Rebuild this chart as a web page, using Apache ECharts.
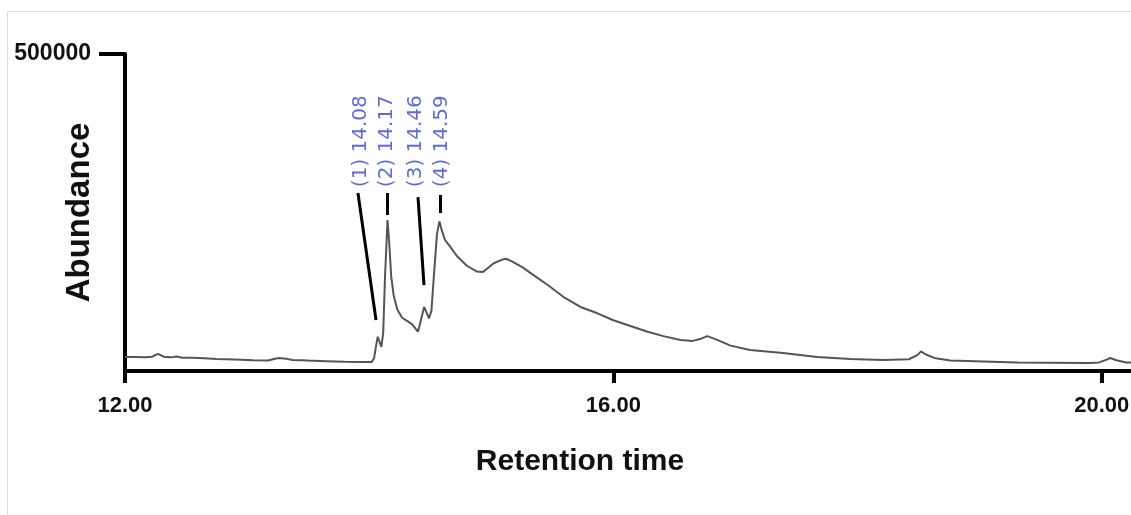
<!DOCTYPE html>
<html>
<head>
<meta charset="utf-8">
<script src="https://cdn.jsdelivr.net/npm/echarts@6/dist/echarts.min.js"></script>
<style>html,body{margin:0;padding:0;background:#fff;}#c{width:1131px;height:515px;}</style>
</head>
<body>
<div id="c"></div>
<script>
// Retention time (min)
var times = [12.00,12.08,12.16,12.22,12.27,12.32,12.38,12.42,12.47,12.55,12.65,12.75,12.90,13.05,13.17,13.22,13.26,13.32,13.37,13.50,13.65,13.80,13.95,14.02,14.04,14.055,14.07,14.085,14.10,14.115,14.13,14.15,14.165,14.18,14.20,14.23,14.27,14.31,14.35,14.40,14.43,14.45,14.47,14.49,14.51,14.53,14.555,14.575,14.59,14.62,14.66,14.72,14.80,14.88,14.93,14.97,15.02,15.08,15.12,15.17,15.26,15.34,15.46,15.59,15.73,15.87,16.00,16.14,16.28,16.41,16.55,16.65,16.72,16.77,16.85,16.96,17.12,17.39,17.67,17.94,18.21,18.42,18.49,18.52,18.56,18.64,18.76,19.03,19.31,19.58,19.90,19.98,20.04,20.07,20.12,20.20,20.24];
// Abundance
var abundance = [22000,22000,21500,22500,27000,22500,21500,23000,21000,21000,20000,19000,18000,17000,16500,19000,20500,19500,17500,16500,15500,14500,14000,14000,20000,38000,54000,46000,38000,60000,150000,238000,200000,150000,120000,97000,84000,79000,74000,62000,85000,101000,92000,83000,95000,150000,215000,236000,225000,207000,197000,181000,166000,157000,156000,162000,170000,175000,177000,173000,163000,152000,136000,117000,101000,91000,80000,71000,62000,55000,49000,47500,51000,55000,49000,40000,33000,28500,22000,19000,17500,18500,25000,31000,26000,20000,16500,15000,13500,13000,12500,13500,18000,20500,17000,13500,13500];

// Peak annotations
var peakLabels = ["(1) 14.08","(2) 14.17","(3) 14.46","(4) 14.59"];
var labelX = [13.933,14.146,14.383,14.596];
var labelY = [290000,290000,290000,290000];
// Leader lines: [x1,y1,x2,y2]
var leaderStartX = [13.908,14.146,14.400,14.580];
var leaderStartY = [280800,280800,274400,277600];
var leaderEndX = [14.056,14.146,14.449,14.580];
var leaderEndY = [80400,246000,135600,249200];

var xTicks = [12,16,20];
var yTicks = [500000];

var lineData = times.map(function(t,i){return [t, abundance[i]];});
var labelData = peakLabels.map(function(s,i){return {value:[labelX[i],labelY[i]], name:s};});
var leaderData = leaderStartX.map(function(x,i){
  return [{coord:[x,leaderStartY[i]]},{coord:[leaderEndX[i],leaderEndY[i]]}];
});

var chart = echarts.init(document.getElementById('c'), null, {renderer:'canvas'});
chart.setOption({
  backgroundColor:'#fff',
  animation:false,
  graphic:[{type:'rect', z:-1, silent:true, shape:{x:7.5,y:11.5,width:1200,height:600}, style:{fill:'none', stroke:'#dcdcdc', lineWidth:1}}],
  grid:{left:125, right:0, top:54, bottom:144, containLabel:false, outerBoundsMode:'none'},
  xAxis:{
    type:'value', min:12, max:20.24, interval:4,
    name:'Retention time', nameLocation:'middle', nameGap:76, nameMoveOverlap:false,
    nameTextStyle:{fontFamily:'Liberation Sans', fontWeight:'bold', fontSize:30, color:'#111', padding:[0,96,0,0]},
    axisLine:{show:true, onZero:false, lineStyle:{color:'#000', width:4, cap:'square'}},
    axisTick:{show:true, customValues:xTicks, length:12, lineStyle:{color:'#000', width:4}},
    axisLabel:{customValues:xTicks, margin:24, fontFamily:'Liberation Sans', fontWeight:'bold', fontSize:22, color:'#111', formatter:function(v){return v.toFixed(2);}},
    splitLine:{show:false}
  },
  yAxis:{
    type:'value', min:0, max:500000, interval:500000,
    name:'Abundance', nameLocation:'middle', nameGap:29, nameRotate:90, nameMoveOverlap:false,
    nameTextStyle:{fontFamily:'Liberation Sans', fontWeight:'bold', fontSize:33, color:'#111'},
    axisLine:{show:true, onZero:false, lineStyle:{color:'#000', width:4}},
    axisTick:{show:true, customValues:yTicks, length:26, lineStyle:{color:'#000', width:4}},
    axisLabel:{customValues:yTicks, margin:34, fontFamily:'Liberation Sans', fontWeight:'bold', fontSize:23, color:'#111', formatter:function(v){return String(v);}},
    splitLine:{show:false}
  },
  series:[
    {
      type:'line', data:lineData, showSymbol:false, symbol:'none', smooth:false,
      lineStyle:{color:'#555', width:2},
      markLine:{silent:true, symbol:['none','none'], animation:false,
        label:{show:false}, lineStyle:{color:'#000', width:3, type:'solid'},
        emphasis:{disabled:true},
        data:leaderData}
    },
    {
      type:'scatter', data:labelData, symbolSize:0, silent:true,
      label:{show:true, position:[0,0], rotate:90, align:'left', verticalAlign:'middle',
        formatter:function(p){return p.name;},
        fontFamily:'DejaVu Sans', fontSize:20, color:'#3646cc'}
    }
  ]
});
</script>
</body>
</html>
